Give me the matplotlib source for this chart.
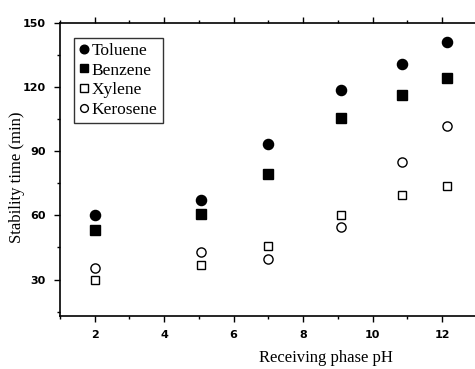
import matplotlib
matplotlib.use("Agg")
from matplotlib import pyplot as plt
from matplotlib.ticker import MultipleLocator

# values
ph = [2, 5.05, 7, 9.1, 10.85, 12.15]
toluene = [60, 67, 93.5, 118.5, 131, 141]
benzene = [53, 60.5, 79.5, 105.5, 116.5, 124]
xylene = [30, 37, 45.5, 60, 69.5, 73.5]
kerosene = [35.5, 43, 39.5, 54.5, 85, 102]

x_ticks = [2, 4, 6, 8, 10, 12]
y_ticks = [30, 60, 90, 120, 150]

serif = ["Liberation Serif", "DejaVu Serif"]
tickfont = ["Liberation Sans Narrow", "DejaVu Sans"]

fig = plt.figure(figsize=(4.75, 3.69), dpi=100)
ax = fig.add_axes([0.126, 0.144, 0.874, 0.794])

ax.plot(ph, toluene, "o", color="black", ms=7.3, label="Toluene")
ax.plot(ph, benzene, "s", color="black", ms=6.6, label="Benzene")
ax.plot(ph, xylene, "s", mfc="white", mec="black", mew=1.0, ms=6.0, label="Xylene")
ax.plot(ph, kerosene, "o", mfc="white", mec="black", mew=1.0, ms=6.6, label="Kerosene")

ax.set_xlim(1, 12.95)
ax.set_ylim(13, 150)
ax.set_xticks(x_ticks)
ax.set_yticks(y_ticks)
ax.xaxis.set_minor_locator(MultipleLocator(1))
ax.yaxis.set_minor_locator(MultipleLocator(15))
ax.tick_params(which="both", direction="out", top=True, right=False, width=1.0, pad=6)
ax.tick_params(which="major", length=4)
ax.tick_params(which="minor", length=2.5)
ax.spines["right"].set_visible(False)
for s in ("left", "bottom", "top"):
    ax.spines[s].set_linewidth(1.2)

for lab in ax.get_xticklabels() + ax.get_yticklabels():
    lab.set_family(tickfont)
    lab.set_fontweight("bold")
    lab.set_fontsize(8)

leg = ax.legend(loc="upper left", bbox_to_anchor=(0.035, 0.95), prop={"family": serif, "size": 12.5},
                frameon=True, fancybox=False, edgecolor="black", handlelength=0.5, markerscale=0.85,
                handletextpad=0.2, labelspacing=0.2, borderpad=0.3, borderaxespad=0.0)
leg.get_frame().set_linewidth(1.0)

fig.text(0.686, 0.03, "Receiving phase pH", family=serif, fontsize=12, ha="center", va="center")
fig.text(0.035, 0.52, "Stability time (min)", family=serif, fontsize=12, ha="center", va="center",
         rotation=90)

fig.savefig("out.png", dpi=100)
